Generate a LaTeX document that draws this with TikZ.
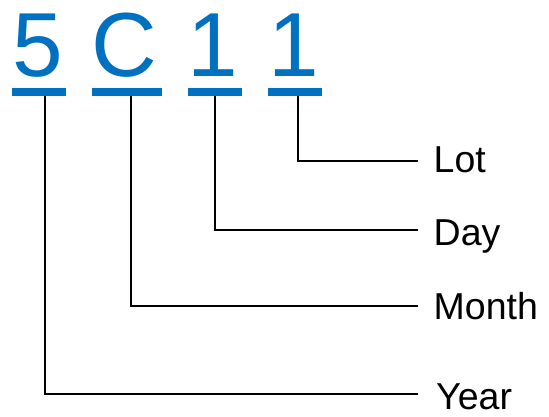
\documentclass[tikz,border=0pt]{standalone}
\usepackage{fontspec}
\setmainfont{Liberation Sans}
\definecolor{codeblue}{HTML}{0070C0}
\begin{document}
\begin{tikzpicture}[x=1pt,y=-1pt,
  digit/.style={text=codeblue, font=\fontsize{91}{91}\selectfont, inner sep=0pt, anchor=base west},
  ubar/.style={fill=codeblue, inner sep=0pt, minimum height=7.5pt, anchor=north west},
  lbl/.style={font=\fontsize{37.5}{37.5}\selectfont, inner sep=0pt, anchor=base west},
  conn/.style={draw=black, line width=2pt, line join=miter}]
\useasboundingbox (0,0) rectangle (549,417);
% digits
\node[digit] (d5) at (12,77) {5};
\node[digit] (dC) at (91.5,77) {C};
\node[digit] (d1a) at (187.5,77) {1};
\node[digit] (d1b) at (268,77) {1};
% underlines
\node[ubar, minimum width=54pt] (u5) at (12,88) {};
\node[ubar, minimum width=70pt] (uC) at (92,88) {};
\node[ubar, minimum width=54pt] (u1a) at (188,88) {};
\node[ubar, minimum width=54pt] (u1b) at (268,88) {};
% line ends
\coordinate (eLot) at (418,161.5);
\coordinate (eDay) at (418,229.5);
\coordinate (eMonth) at (418,305.5);
\coordinate (eYear) at (418,394);
% labels
\node[lbl] (lot) at (433.5,172.5) {Lot};
\node[lbl] (day) at (433.5,245) {Day};
\node[lbl] (month) at (433.5,319) {Month};
\node[lbl] (year) at (436,409) {Year};
% connectors
\draw[conn] ([xshift=6pt]u5.south) |- (eYear);
\draw[conn] ([xshift=3.5pt]uC.south) |- (eMonth);
\draw[conn] (u1a.south) |- (eDay);
\draw[conn] ([xshift=3pt]u1b.south) |- (eLot);
\end{tikzpicture}
\end{document}
